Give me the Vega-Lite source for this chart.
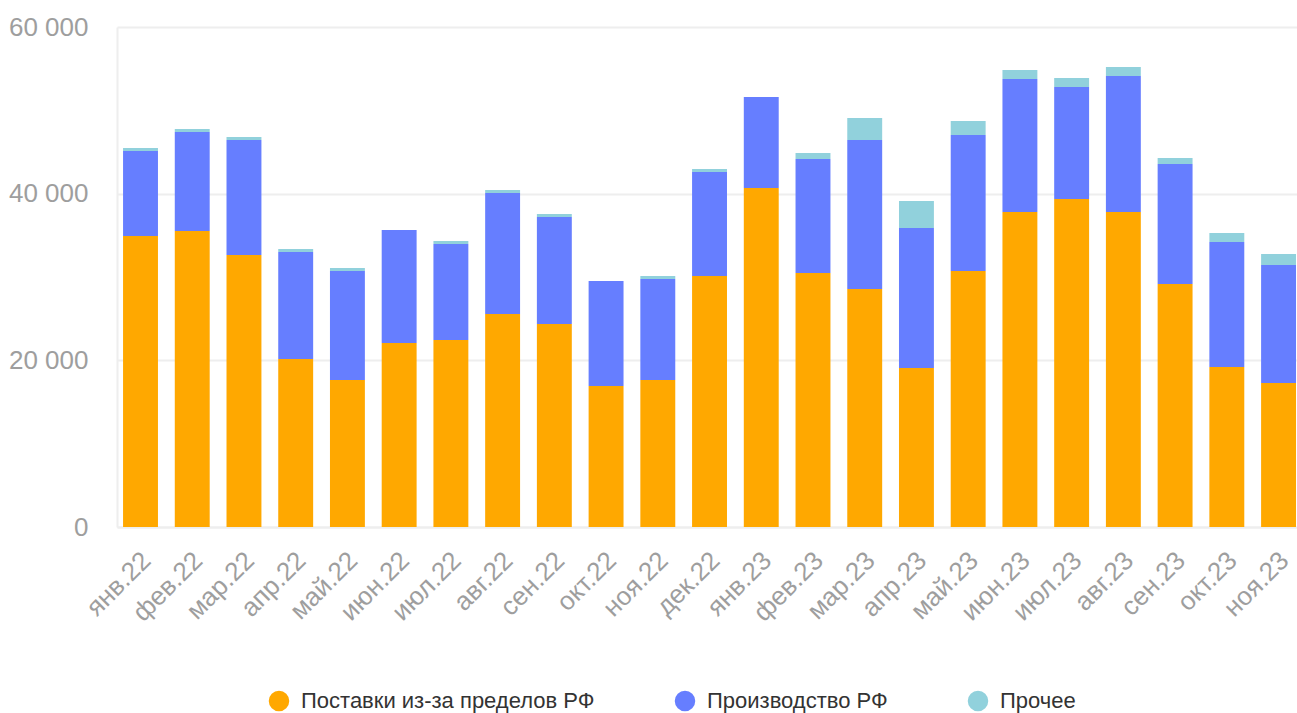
{
  "$schema": "https://vega.github.io/schema/vega-lite/v6.json",
  "width": 1180,
  "height": 500,
  "autosize": {"type": "none"},
  "padding": {"left": 117, "top": 27, "right": 0, "bottom": 186},
  "background": "#ffffff",
  "data": {
    "values": [
      {"m": "янв.22", "s": "Поставки из-за пределов РФ", "v": 34920},
      {"m": "янв.22", "s": "Производство РФ", "v": 10200},
      {"m": "янв.22", "s": "Прочее", "v": 360},
      {"m": "фев.22", "s": "Поставки из-за пределов РФ", "v": 35520},
      {"m": "фев.22", "s": "Производство РФ", "v": 11880},
      {"m": "фев.22", "s": "Прочее", "v": 360},
      {"m": "мар.22", "s": "Поставки из-за пределов РФ", "v": 32640},
      {"m": "мар.22", "s": "Производство РФ", "v": 13800},
      {"m": "мар.22", "s": "Прочее", "v": 360},
      {"m": "апр.22", "s": "Поставки из-за пределов РФ", "v": 20160},
      {"m": "апр.22", "s": "Производство РФ", "v": 12840},
      {"m": "апр.22", "s": "Прочее", "v": 360},
      {"m": "май.22", "s": "Поставки из-за пределов РФ", "v": 17640},
      {"m": "май.22", "s": "Производство РФ", "v": 13080},
      {"m": "май.22", "s": "Прочее", "v": 360},
      {"m": "июн.22", "s": "Поставки из-за пределов РФ", "v": 22080},
      {"m": "июн.22", "s": "Производство РФ", "v": 13560},
      {"m": "июн.22", "s": "Прочее", "v": 0},
      {"m": "июл.22", "s": "Поставки из-за пределов РФ", "v": 22440},
      {"m": "июл.22", "s": "Производство РФ", "v": 11520},
      {"m": "июл.22", "s": "Прочее", "v": 360},
      {"m": "авг.22", "s": "Поставки из-за пределов РФ", "v": 25560},
      {"m": "авг.22", "s": "Производство РФ", "v": 14520},
      {"m": "авг.22", "s": "Прочее", "v": 360},
      {"m": "сен.22", "s": "Поставки из-за пределов РФ", "v": 24360},
      {"m": "сен.22", "s": "Производство РФ", "v": 12840},
      {"m": "сен.22", "s": "Прочее", "v": 360},
      {"m": "окт.22", "s": "Поставки из-за пределов РФ", "v": 16920},
      {"m": "окт.22", "s": "Производство РФ", "v": 12600},
      {"m": "окт.22", "s": "Прочее", "v": 0},
      {"m": "ноя.22", "s": "Поставки из-за пределов РФ", "v": 17640},
      {"m": "ноя.22", "s": "Производство РФ", "v": 12120},
      {"m": "ноя.22", "s": "Прочее", "v": 360},
      {"m": "дек.22", "s": "Поставки из-за пределов РФ", "v": 30120},
      {"m": "дек.22", "s": "Производство РФ", "v": 12480},
      {"m": "дек.22", "s": "Прочее", "v": 360},
      {"m": "янв.23", "s": "Поставки из-за пределов РФ", "v": 40680},
      {"m": "янв.23", "s": "Производство РФ", "v": 10920},
      {"m": "янв.23", "s": "Прочее", "v": 0},
      {"m": "фев.23", "s": "Поставки из-за пределов РФ", "v": 30480},
      {"m": "фев.23", "s": "Производство РФ", "v": 13680},
      {"m": "фев.23", "s": "Прочее", "v": 720},
      {"m": "мар.23", "s": "Поставки из-за пределов РФ", "v": 28560},
      {"m": "мар.23", "s": "Производство РФ", "v": 17880},
      {"m": "мар.23", "s": "Прочее", "v": 2640},
      {"m": "апр.23", "s": "Поставки из-за пределов РФ", "v": 19080},
      {"m": "апр.23", "s": "Производство РФ", "v": 16800},
      {"m": "апр.23", "s": "Прочее", "v": 3240},
      {"m": "май.23", "s": "Поставки из-за пределов РФ", "v": 30720},
      {"m": "май.23", "s": "Производство РФ", "v": 16320},
      {"m": "май.23", "s": "Прочее", "v": 1680},
      {"m": "июн.23", "s": "Поставки из-за пределов РФ", "v": 37800},
      {"m": "июн.23", "s": "Производство РФ", "v": 15960},
      {"m": "июн.23", "s": "Прочее", "v": 1080},
      {"m": "июл.23", "s": "Поставки из-за пределов РФ", "v": 39360},
      {"m": "июл.23", "s": "Производство РФ", "v": 13440},
      {"m": "июл.23", "s": "Прочее", "v": 1080},
      {"m": "авг.23", "s": "Поставки из-за пределов РФ", "v": 37800},
      {"m": "авг.23", "s": "Производство РФ", "v": 16320},
      {"m": "авг.23", "s": "Прочее", "v": 1080},
      {"m": "сен.23", "s": "Поставки из-за пределов РФ", "v": 29160},
      {"m": "сен.23", "s": "Производство РФ", "v": 14400},
      {"m": "сен.23", "s": "Прочее", "v": 720},
      {"m": "окт.23", "s": "Поставки из-за пределов РФ", "v": 19200},
      {"m": "окт.23", "s": "Производство РФ", "v": 15000},
      {"m": "окт.23", "s": "Прочее", "v": 1080},
      {"m": "ноя.23", "s": "Поставки из-за пределов РФ", "v": 17280},
      {"m": "ноя.23", "s": "Производство РФ", "v": 14160},
      {"m": "ноя.23", "s": "Прочее", "v": 1320}
    ]
  },
  "mark": {"type": "bar"},
  "encoding": {
    "x": {
      "field": "m",
      "type": "nominal",
      "sort": null,
      "title": null,
      "scale": {"paddingInner": 0.325, "paddingOuter": 0.068, "align": 0.86},
      "axis": {
        "labelAngle": -45,
        "labelAlign": "right",
        "labelBaseline": "middle",
        "labelFontSize": 26,
        "labelColor": "#9e9e9e",
        "labelFont": "Liberation Sans",
        "labelPadding": 29,
        "labelOffset": 6,
        "ticks": false,
        "domainColor": "#eeeeee",
        "domainWidth": 2
      }
    },
    "y": {
      "field": "v",
      "type": "quantitative",
      "stack": "zero",
      "title": null,
      "scale": {"domain": [0, 60000], "nice": false},
      "axis": {
        "values": [0, 20000, 40000, 60000],
        "labelExpr": "replace(format(datum.value, ','), ',', ' ')",
        "labelFontSize": 26,
        "labelColor": "#9e9e9e",
        "labelFont": "Liberation Sans",
        "labelPadding": 29,
        "ticks": false,
        "grid": true,
        "gridColor": "#eeeeee",
        "gridWidth": 2,
        "domainColor": "#eeeeee",
        "domainWidth": 2
      }
    },
    "color": {
      "field": "s",
      "type": "nominal",
      "title": null,
      "scale": {
        "domain": ["Поставки из-за пределов РФ", "Производство РФ", "Прочее"],
        "range": ["#ffa800", "#667eff", "#91d1dc"]
      },
      "legend": {
        "orient": "none",
        "legendX": 151,
        "legendY": 663,
        "direction": "horizontal",
        "symbolType": "circle",
        "symbolSize": 420,
        "symbolStrokeWidth": 0,
        "labelFontSize": 22,
        "labelFont": "Liberation Sans",
        "labelColor": "#333333",
        "labelLimit": 0,
        "labelOffset": 11,
        "columnPadding": 79,
        "padding": 0
      }
    },
    "order": {"field": "s", "sort": "ascending"}
  },
  "config": {
    "view": {"stroke": null},
    "axis": {"gridCap": "butt"}
  }
}
